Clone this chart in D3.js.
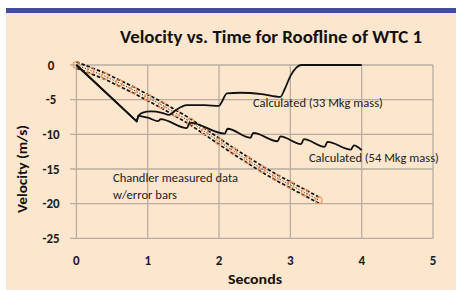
<!DOCTYPE html>
<html><head><meta charset="utf-8">
<script src="https://cdn.jsdelivr.net/npm/d3@7"></script>
<style>body{margin:0;background:#fff}svg{display:block}</style>
</head><body>
<svg id="c" width="456" height="290"></svg>
<script>
// ---- data ----
const xTicks = [0, 1, 2, 3, 4, 5];
const yTicks = [0, -5, -10, -15, -20, -25];
const chandlerT = [0,0.2,0.4,0.6,0.8,1.0,1.2,1.4,1.6,1.8,2.0,2.2,2.4,2.6,2.8,3.0,3.2,3.4];
const chandlerV = [0,-0.8,-1.6,-2.6,-3.6,-4.7,-5.8,-7.0,-8.2,-9.6,-11.0,-12.4,-13.7,-15.0,-16.2,-17.3,-18.4,-19.5];
const chandlerErr = 0.45;
const m33T = [0,0.845,0.87,0.92,1.05,1.2,1.3,1.38,1.55,1.8,2.0,2.04,2.11,2.3,2.6,2.86,2.92,3.0,3.08,3.15,4.0];
const m33V = [0,-8.14,-7.3,-6.9,-6.7,-6.9,-7.2,-6.6,-5.8,-5.8,-5.9,-5.3,-4.1,-4.0,-4.2,-4.6,-3.5,-1.6,-0.4,0,0];
const m54T = [0,0.845,0.87,1.0,1.15,1.18,1.55,1.59,2.08,2.12,2.44,2.48,2.82,2.86,3.15,3.19,3.48,3.52,3.85,3.89,4.0];
const m54V = [0,-8.14,-7.3,-7.6,-8.1,-7.8,-9.1,-8.3,-9.9,-9.2,-10.5,-9.8,-11.0,-10.3,-11.4,-10.7,-11.8,-11.1,-12.2,-11.6,-12.3];
const title = "Velocity vs. Time for Roofline of WTC 1";
const xTitle = "Seconds";
const yTitle = "Velocity (m/s)";
const notes = [
  {text: "Calculated (33 Mkg mass)", t: 2.475, v: -5.48, w: 130},
  {text: "Calculated (54 Mkg mass)", t: 3.26, v: -13.4, w: 130},
  {text: "Chandler measured data", t: 0.513, v: -16.3, w: 125},
  {text: "w/error bars", t: 0.513, v: -18.76, w: 64}
];

// ---- drawing ----
const svg = d3.select("#c");
const font = "Carlito, Lato, 'Open Sans', sans-serif";
svg.append("rect").attr("x",0).attr("y",0).attr("width",456).attr("height",290).attr("fill","#ffffff");
svg.append("rect").attr("x",6).attr("y",13).attr("width",450).attr("height",277).attr("fill","#fce6cd");
svg.append("rect").attr("x",6).attr("y",8).attr("width",450).attr("height",5).attr("fill","#3f4f9c");

const x = d3.scaleLinear().domain([0,5]).range([76.4,433]);
const y = d3.scaleLinear().domain([0,-25]).range([65,238.3]);

const grid = "#b9ad9f";
const g = svg.append("g");
g.selectAll(".h").data(yTicks).join("line")
  .attr("x1", 70).attr("x2", x(5)).attr("y1", d=>y(d)).attr("y2", d=>y(d))
  .attr("stroke", grid).attr("stroke-width", 1.3);
g.selectAll(".v").data(xTicks).join("line")
  .attr("x1", d=>x(d)).attr("x2", d=>x(d)).attr("y1", y(0)).attr("y2", y(-25))
  .attr("stroke", grid).attr("stroke-width", 1.3);

// tick labels
svg.selectAll(".yl").data(yTicks).join("text")
  .attr("x", 51).attr("y", d=>y(d)).attr("dy","0.35em").attr("text-anchor","middle")
  .attr("font-family", font).attr("font-weight","bold").attr("font-size",13).attr("fill","#1a1a1a")
  .text(d=>d);
svg.selectAll(".xl").data(xTicks).join("text")
  .attr("x", d=>x(d)).attr("y", 260).attr("dy","0.35em").attr("text-anchor","middle")
  .attr("font-family", font).attr("font-weight","bold").attr("font-size",13).attr("fill","#1a1a1a")
  .text(d=>d);

svg.append("text").attr("x",271).attr("y",42.5).attr("text-anchor","middle")
  .attr("font-family",font).attr("font-weight","bold").attr("font-size",17).attr("fill","#111")
  .attr("textLength",302).attr("lengthAdjust","spacingAndGlyphs").text(title);
svg.append("text").attr("x",255).attr("y",279).attr("dy","0.35em").attr("text-anchor","middle")
  .attr("font-family",font).attr("font-weight","bold").attr("font-size",13).attr("fill","#111")
  .attr("textLength",54).attr("lengthAdjust","spacingAndGlyphs").text(xTitle);
svg.append("text").attr("transform","translate(22,169) rotate(-90)").attr("dy","0.35em").attr("text-anchor","middle")
  .attr("font-family",font).attr("font-weight","bold").attr("font-size",13).attr("fill","#111")
  .attr("textLength",88).attr("lengthAdjust","spacingAndGlyphs").text(yTitle);

// chandler data
const ch = chandlerT.map((t,i)=>({t, v: chandlerV[i]}));
const line = d3.line().x(d=>x(d.t)).y(d=>y(d.v));
[chandlerErr, -chandlerErr].forEach(e => {
  svg.append("path").attr("d", line(ch.map(d=>({t:d.t, v:d.v+e}))))
    .attr("fill","none").attr("stroke","#111").attr("stroke-width",1.7).attr("stroke-dasharray","3.5,2");
});
svg.append("path").attr("d", line(ch))
  .attr("fill","none").attr("stroke","#333").attr("stroke-width",1).attr("stroke-dasharray","1.2,1.8");
svg.selectAll(".pt").data(ch).join("circle")
  .attr("cx", d=>x(d.t)).attr("cy", d=>y(d.v)).attr("r", 3.3)
  .attr("fill","none").attr("stroke","#f0935a").attr("stroke-width",1.1);

// calculated curves: straight initial fall, then smooth curves from the first impact
const curve = d3.line().x(d=>x(d.t)).y(d=>y(d.v)).curve(d3.curveMonotoneX);
function drawCalc(T, V) {
  const pts = T.map((t,i)=>({t, v:V[i]}));
  svg.append("path").attr("d", line(pts.slice(0,3)))
    .attr("fill","none").attr("stroke","#111").attr("stroke-width",1.8).attr("stroke-linejoin","round");
  svg.append("path").attr("d", curve(pts.slice(2)))
    .attr("fill","none").attr("stroke","#111").attr("stroke-width",1.8);
}
drawCalc(m54T, m54V);
drawCalc(m33T, m33V);

svg.selectAll(".note").data(notes).join("text")
  .attr("x", d=>x(d.t)).attr("y", d=>y(d.v)).attr("dy","0.35em")
  .attr("font-family",font).attr("font-size",11.5).attr("fill","#222")
  .attr("textLength", d=>d.w).attr("lengthAdjust","spacingAndGlyphs")
  .text(d=>d.text);
</script>
</body></html>
